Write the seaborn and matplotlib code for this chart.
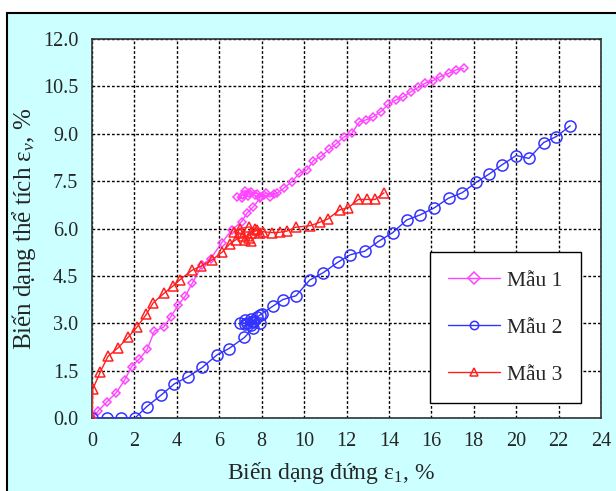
import matplotlib
matplotlib.use("Agg")
import matplotlib.pyplot as plt
import seaborn as sns
import pandas as pd
from matplotlib.patches import Rectangle

# ---- data ----
m1_x = [0, 0.3, 0.72, 1.14, 1.54, 1.87, 2.22, 2.6, 2.94, 3.38, 3.72, 4.07, 4.4, 4.72, 5.2, 5.6, 6.12, 6.59,
        7.06, 7.3, 7.61, 7.92, 7.7, 7.4, 7.1, 6.85, 7.05, 7.35, 7.2, 7.5, 7.8, 8.1, 8.4, 8.6, 8.2, 7.9,
        8.71, 9.03, 9.42, 9.78, 10.13, 10.44, 10.79, 11.19, 11.51, 11.86, 12.25, 12.61, 12.92, 13.27, 13.62,
        13.98, 14.34, 14.68, 15.03, 15.39, 15.71, 16.07, 16.42, 16.81, 17.17, 17.52]
m1_y = [0, 0.23, 0.52, 0.8, 1.2, 1.63, 1.86, 2.17, 2.75, 2.88, 3.21, 3.58, 3.86, 4.26, 4.85, 5.05, 5.55, 5.95,
        6.22, 6.48, 6.69, 6.96, 7.05, 7.12, 7.05, 7.0, 6.95, 7.02, 7.2, 7.15, 7.1, 7.05, 7.0, 7.08, 7.12, 7.0,
        7.11, 7.27, 7.48, 7.75, 7.85, 8.15, 8.28, 8.51, 8.68, 8.89, 9.01, 9.38, 9.44, 9.54, 9.7,
        9.94, 10.07, 10.17, 10.33, 10.47, 10.6, 10.68, 10.81, 10.91, 11.02, 11.07]

m2_x = [0, 0.69, 1.37, 2.03, 2.58, 3.25, 3.88, 4.54, 5.2, 5.9, 6.46, 7.19, 7.6, 7.92, 7.6, 7.3, 7.0, 7.2, 7.5,
        7.8, 7.5, 7.2, 7.6, 7.9, 8.0, 8.55, 9.0, 9.62, 10.27, 10.9, 11.59, 12.18, 12.86, 13.53, 14.18, 14.84,
        15.47, 16.13, 16.81, 17.45, 18.11, 18.74, 19.32, 20.0, 20.6, 21.29, 21.89, 22.55]
m2_y = [0, 0, 0, 0, 0.36, 0.72, 1.08, 1.31, 1.6, 2.0, 2.2, 2.55, 2.85, 3.0, 3.05, 3.0, 3.02, 3.1, 3.15,
        3.2, 2.95, 2.98, 3.08, 3.25, 3.3, 3.55, 3.75, 3.87, 4.37, 4.6, 4.93, 5.17, 5.28, 5.6, 5.87, 6.27,
        6.43, 6.65, 6.96, 7.13, 7.46, 7.73, 8.01, 8.31, 8.22, 8.72, 8.91, 9.25]

m3_x = [0, 0.04, 0.4, 0.75, 1.24, 1.71, 2.11, 2.56, 2.89, 3.4, 3.82, 4.15, 4.72, 5.15, 5.64, 6.14, 6.51,
        6.8, 7.1, 7.4, 7.0, 6.7, 7.0, 7.4, 7.7, 7.9, 7.5, 7.2, 7.5, 7.8, 8.05,
        8.48, 8.85, 9.2, 9.6, 10.3, 10.75, 11.12, 11.67, 12.09, 12.56, 12.96, 13.35, 13.77]
m3_y = [0, 0.92, 1.47, 1.95, 2.23, 2.56, 2.87, 3.28, 3.65, 3.95, 4.18, 4.38, 4.68, 4.81, 5.0, 5.25, 5.52,
        5.65, 5.75, 5.7, 5.85, 5.9, 6.0, 6.05, 6.0, 5.85, 5.6, 5.65, 5.85, 5.95, 5.9,
        5.87, 5.88, 5.92, 6.04, 6.09, 6.2, 6.3, 6.59, 6.66, 6.92, 6.92, 6.92, 7.13]

labels = ["Mẫu 1", "Mẫu 2", "Mẫu 3"]
x_ticks = list(range(0, 25, 2))
y_ticks = [0.0, 1.5, 3.0, 4.5, 6.0, 7.5, 9.0, 10.5, 12.0]

sns.set_style("white")
plt.rcParams['font.family'] = ['Liberation Serif', 'DejaVu Serif']
plt.rcParams['mathtext.fontset'] = 'custom'
plt.rcParams['mathtext.rm'] = 'Liberation Serif'
plt.rcParams['mathtext.it'] = 'Liberation Serif:italic'

fig = plt.figure(figsize=(6.16, 4.91), dpi=100)
fig.patch.set_facecolor('white')
bg = Rectangle((7 / 616, -0.05), 1.2, 1 - 13 / 491 + 0.05, transform=fig.transFigure,
               facecolor='#CCFFFF', edgecolor='black', linewidth=1.5, zorder=-10)
fig.patches.append(bg)

ax = fig.add_axes([92 / 616, 73 / 491, 509 / 616, 379 / 491])
ax.set_zorder(5)
ax.set_facecolor('white')

styles = [
    dict(color='#FF44FF', marker='D', ms=4.5),
    dict(color='#3333FF', marker='o', ms=8),
    dict(color='#FF2020', marker='^', ms=7.5),
]
series = [(m1_x, m1_y), (m2_x, m2_y), (m3_x, m3_y)]
for (xs, ys), lab, st in zip(series, labels, styles):
    df = pd.DataFrame({'x': xs, 'y': ys})
    sns.lineplot(data=df, x='x', y='y', ax=ax, sort=False, estimator=None,
                 color=st['color'], marker=st['marker'], markersize=st['ms'],
                 markerfacecolor='none', markeredgecolor=st['color'],
                 markeredgewidth=1.1, linewidth=1.0, label=lab, zorder=3)

ax.set_xlim(0, 24)
ax.set_ylim(0, 12)
ax.set_xticks(x_ticks)
ax.set_yticks(y_ticks)
ax.set_yticklabels([f"{v:.1f}" for v in y_ticks])
ax.grid(True, color='black', linestyle=(0, (2, 1.5)), linewidth=1.0, zorder=1)
ax.set_axisbelow(True)
for s in ax.spines.values():
    s.set_color('#333333')
    s.set_linewidth(1.2)
ax.tick_params(axis='both', direction='out', length=5, width=1, color='#333333',
               labelsize=14.5, pad=5)

ax.set_xlabel("Biến dạng đứng ε$_1$, %", fontsize=17)
ax.xaxis.set_label_coords(0.47, -0.112)
ax.set_ylabel("Biến dạng thể tích ε$_v$, %", fontsize=18)
ax.yaxis.set_label_coords(-0.106, 0.5)

leg = ax.legend(loc='lower left', bbox_to_anchor=(0.664, 0.04), fontsize=15.5,
                frameon=True, fancybox=False, framealpha=1, edgecolor='black',
                labelspacing=1.25, handlelength=2.4, handletextpad=0.35,
                borderpad=0.85, borderaxespad=0)
leg.get_frame().set_linewidth(1.0)
for h in leg.legend_handles:
    h.set_markersize(6)

fig.savefig("out.png", dpi=100)
